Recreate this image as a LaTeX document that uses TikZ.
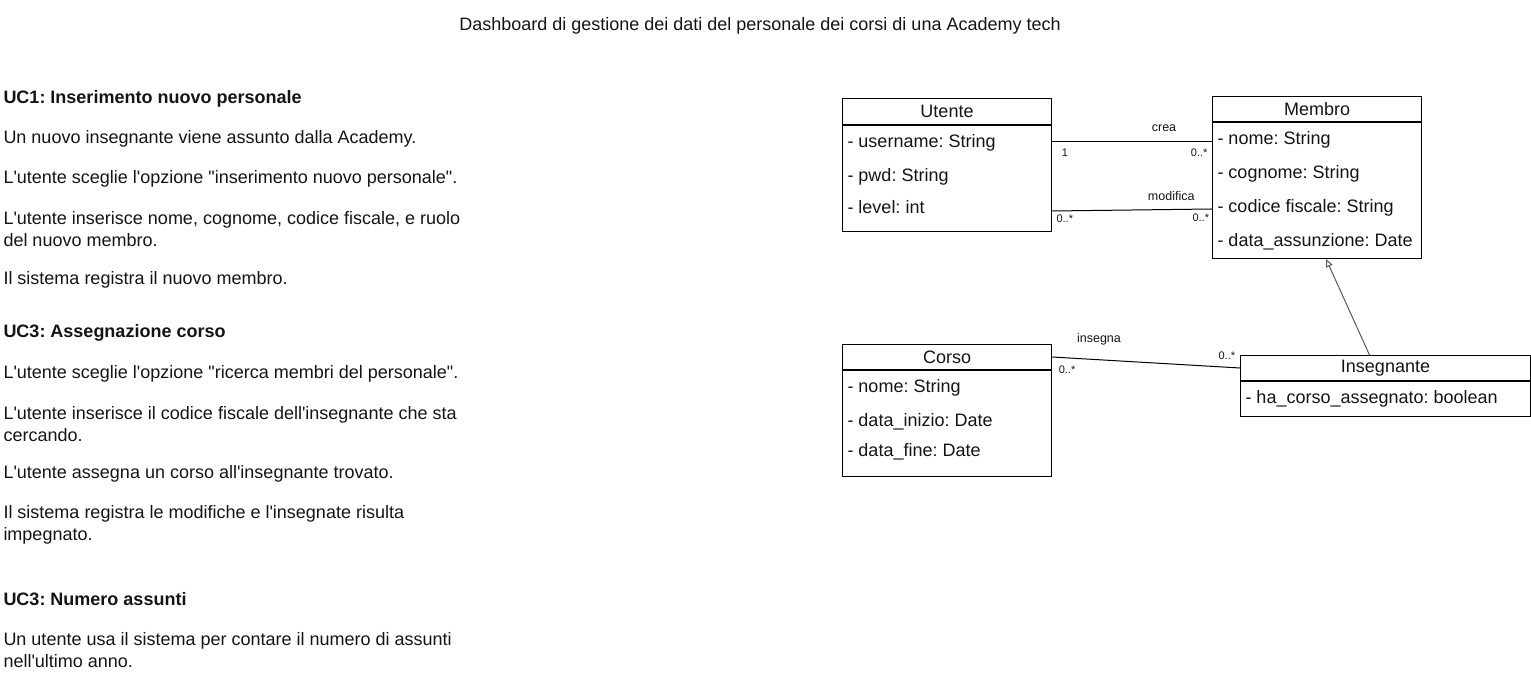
\documentclass[tikz,border=0pt]{standalone}
\usepackage{fontspec}
\setmainfont{Liberation Sans}
\usetikzlibrary{positioning, arrows.meta}
\definecolor{ink}{RGB}{20, 20, 20}
\definecolor{genline}{RGB}{90, 90, 90}
\newcommand{\apos}{\textquotesingle}
\newcommand{\dquo}{\textquotedbl}
\frenchspacing

\begin{document}
\begin{tikzpicture}[x=1pt, y=-1pt, line width=1pt,
    txt/.style={anchor=west, inner sep=0pt, align=left, text=ink, font=\fontsize{18}{22}\selectfont},
    uctitle/.style={txt, font=\fontsize{18}{22}\selectfont\bfseries},
    classhead/.style={draw, rectangle, anchor=north west, inner sep=0pt, text=ink, font=\fontsize{18}{22}\selectfont},
    classbody/.style={draw, rectangle, anchor=north west, inner sep=0pt},
    attr/.style={anchor=west, inner sep=0pt, text=ink, font=\fontsize{18}{22}\selectfont},
    rel/.style={inner sep=0pt, text=ink, font=\fontsize{12.5}{14}\selectfont},
    mult/.style={inner sep=0pt, text=ink, font=\fontsize{11}{13}\selectfont}]
    \useasboundingbox (0,0) rectangle (1531,684);

    % title
    \node[txt, anchor=center] (title) at (760,26) {Dashboard di gestione dei dati del personale dei corsi di una Academy tech};

    % use cases
    \node[uctitle] (uc1) at (3,99) {UC1: Inserimento nuovo personale};
    \node[txt] (uc1a) at (3,138.5) {Un nuovo insegnante viene assunto dalla Academy.};
    \node[txt] (uc1b) at (3,178.5) {L\apos utente sceglie l\apos opzione \dquo inserimento nuovo personale\dquo.};
    \node[txt] (uc1c) at (3,229) {L\apos utente inserisce nome, cognome, codice fiscale, e ruolo\\del nuovo membro.};
    \node[txt] (uc1d) at (3,279.5) {Il sistema registra il nuovo membro.};

    \node[uctitle] (uc2) at (3,333) {UC3: Assegnazione corso};
    \node[txt] (uc2a) at (3,373.5) {L\apos utente sceglie l\apos opzione \dquo ricerca membri del personale\dquo.};
    \node[txt] (uc2b) at (3,424) {L\apos utente inserisce il codice fiscale dell\apos insegnante che sta\\cercando.};
    \node[txt] (uc2c) at (3,473.5) {L\apos utente assegna un corso all\apos insegnante trovato.};
    \node[txt] (uc2d) at (3,525) {Il sistema registra le modifiche e l\apos insegnate risulta\\impegnato.};

    \node[uctitle] (uc3) at (3,599) {UC3: Numero assunti};
    \node[txt] (uc3a) at (3,650) {Un utente usa il sistema per contare il numero di assunti\\nell\apos ultimo anno.};

    % classes
    \node[classhead, minimum width=209, minimum height=26] (utente) at (842,98) {Utente};
    \node[classbody, minimum width=209, minimum height=106] (utentebody) at (utente.south west) {};
    \node[attr] (utente1) at (847,143) {- username: String};
    \node[attr] (utente2) at (847,177) {- pwd: String};
    \node[attr] (utente3) at (847,207) {- level: int};

    \node[classhead, minimum width=209, minimum height=25] (membro) at (1212,96) {Membro};
    \node[classbody, minimum width=209, minimum height=136] (membrobody) at (membro.south west) {};
    \node[attr] (membro1) at (1217,140) {- nome: String};
    \node[attr] (membro2) at (1217,174) {- cognome: String};
    \node[attr] (membro3) at (1217,208) {- codice fiscale: String};
    \node[attr] (membro4) at (1217,242) {- data\_assunzione: Date};

    \node[classhead, minimum width=209, minimum height=25] (corso) at (842,344) {Corso};
    \node[classbody, minimum width=209, minimum height=106] (corsobody) at (corso.south west) {};
    \node[attr] (corso1) at (847,388) {- nome: String};
    \node[attr] (corso2) at (847,422) {- data\_inizio: Date};
    \node[attr] (corso3) at (847,452) {- data\_fine: Date};

    \node[classhead, minimum width=290, minimum height=25] (insegnante) at (1240,355) {Insegnante};
    \node[classbody, minimum width=290, minimum height=35] (insegnantebody) at (insegnante.south west) {};
    \node[attr] (insegnante1) at (1245,399) {- ha\_corso\_assegnato: boolean};

    % associations
    \draw ([yshift=-17pt]utentebody.north east) -- ([yshift=-20pt]membrobody.north west)
        node[rel, pos=0.70, above=10pt] {crea}
        node[mult, pos=0.08, below=6pt] {1}
        node[mult, pos=0.92, below=6pt] {0..*};
    \draw ([yshift=21pt]utentebody.south east) -- ([yshift=50pt]membrobody.south west)
        node[rel, pos=0.745, above=8pt] {modifica}
        node[mult, pos=0.08, below=3pt] {0..*}
        node[mult, pos=0.93, below=4pt] {0..*};
    \draw (corso.east) -- (insegnante.west)
        node[rel, pos=0.25, above=14pt] {insegna}
        node[mult, pos=0.08, below=7pt] {0..*}
        node[mult, pos=0.93, above=7pt] {0..*};

    % generalization
    \draw[genline, -{Triangle[open, length=8pt, width=7pt]}] ([xshift=-16pt]insegnante.north) -- ([xshift=9pt]membrobody.south);
\end{tikzpicture}
\end{document}
